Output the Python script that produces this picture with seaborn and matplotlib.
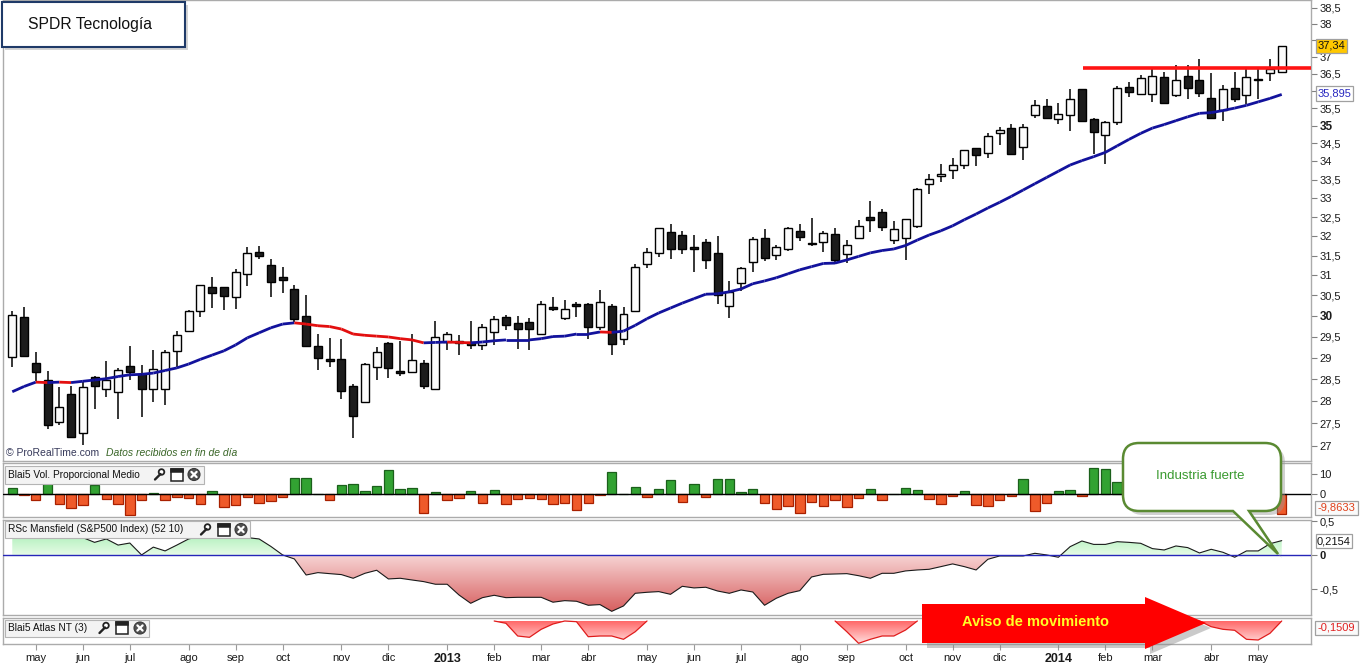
import numpy as np
import pandas as pd
import matplotlib
matplotlib.use("Agg")
import matplotlib.pyplot as plt
import seaborn as sns
from matplotlib.collections import LineCollection
from matplotlib.colors import LinearSegmentedColormap
from matplotlib.patches import Rectangle, Polygon, Circle, PathPatch
from matplotlib.path import Path
from matplotlib.ticker import NullLocator

sns.set_style("white")
plt.rcParams["font.family"] = ["Liberation Sans", "DejaVu Sans"]

# weekly candles, SPDR technology (XLK), Apr 2012 - May 2014
weeks = pd.date_range("2012-04-23", periods=109, freq="W-MON")

opens = [29.02, 29.97, 28.87, 28.47, 27.52, 28.15, 27.28, 28.54, 28.27, 28.20,
         28.80, 28.61, 28.27, 28.27, 29.15, 29.63, 30.12, 30.70, 30.70, 30.46,
         31.04, 31.59, 31.25, 30.95, 30.65, 29.99, 29.27, 28.97, 28.96, 28.34,
         27.98, 28.78, 29.34, 28.69, 28.67, 28.87, 28.27, 29.37, 29.39, 29.38,
         29.31, 29.62, 29.97, 29.82, 29.84, 29.57, 30.21, 29.94, 30.28, 30.28,
         29.74, 30.25, 29.44, 30.11, 31.28, 31.56, 32.10, 32.03, 31.72, 31.85,
         31.56, 30.23, 30.80, 31.34, 31.95, 31.51, 31.67, 32.13, 31.83, 31.85,
         32.05, 31.54, 31.95, 32.50, 32.63, 31.90, 31.95, 32.26, 33.37, 33.60,
         33.77, 33.90, 34.37, 34.23, 34.80, 34.93, 34.39, 35.30, 35.55, 35.18,
         35.30, 36.05, 35.18, 34.73, 35.10, 36.11, 35.90, 35.90, 36.40, 35.87,
         36.43, 36.31, 35.78, 35.44, 36.08, 35.87, 36.36, 36.52, 36.55]
highs = [30.12, 30.22, 29.13, 28.68, 28.32, 28.34, 28.44, 28.57, 28.92, 28.76,
         29.28, 28.82, 29.18, 29.18, 29.63, 30.15, 30.75, 30.96, 30.70, 31.15,
         31.72, 31.75, 31.41, 31.20, 30.75, 30.51, 29.55, 29.46, 29.44, 28.38,
         28.87, 29.26, 29.38, 29.40, 29.56, 28.94, 29.88, 29.62, 29.53, 29.88,
         29.79, 29.99, 30.01, 29.99, 29.94, 30.36, 30.46, 30.38, 30.33, 30.31,
         30.63, 30.30, 30.21, 31.28, 31.69, 32.20, 32.31, 32.13, 32.03, 31.92,
         32.00, 30.87, 31.20, 31.98, 32.18, 31.76, 32.25, 32.31, 32.47, 32.13,
         32.20, 31.90, 32.42, 32.93, 32.72, 32.40, 32.44, 33.27, 33.65, 33.92,
         34.09, 34.31, 34.37, 34.78, 34.97, 35.04, 35.04, 35.72, 35.75, 35.64,
         36.05, 36.05, 35.21, 35.13, 36.14, 36.26, 36.46, 36.64, 36.55, 36.75,
         36.75, 36.93, 36.52, 36.17, 36.55, 36.67, 36.64, 36.93, 37.34]
lows = [28.77, 29.03, 28.46, 27.38, 27.46, 27.19, 27.01, 27.81, 28.10, 27.60,
        28.47, 27.64, 27.98, 27.90, 28.79, 29.63, 29.98, 30.20, 30.15, 30.17,
        30.74, 31.42, 30.47, 30.55, 29.84, 29.27, 28.71, 28.78, 28.05, 27.18,
        27.96, 28.49, 28.53, 28.58, 28.65, 28.28, 28.25, 29.17, 29.07, 29.21,
        29.18, 29.31, 29.65, 29.21, 29.18, 29.53, 30.11, 29.89, 29.98, 29.45,
        29.65, 29.07, 29.29, 30.11, 31.18, 31.46, 31.41, 31.53, 31.09, 31.15,
        30.28, 29.94, 30.60, 31.08, 31.36, 31.39, 31.61, 31.87, 31.74, 31.60,
        31.28, 31.31, 31.92, 32.10, 32.13, 31.80, 31.39, 32.21, 33.10, 33.44,
        33.51, 33.78, 33.87, 34.09, 34.45, 34.20, 34.03, 35.22, 35.18, 35.04,
        34.84, 35.13, 34.20, 33.92, 35.01, 35.82, 35.87, 35.67, 35.61, 35.82,
        35.76, 35.82, 35.18, 35.13, 35.67, 35.61, 35.76, 36.28, 36.55]
closes = [30.01, 29.05, 28.67, 27.46, 27.86, 27.19, 28.31, 28.35, 28.47, 28.71,
          28.67, 28.27, 28.73, 29.13, 29.53, 30.12, 30.75, 30.55, 30.48, 31.08,
          31.56, 31.50, 30.83, 30.88, 29.92, 29.27, 28.99, 28.93, 28.23, 27.65,
          28.84, 29.13, 28.75, 28.65, 28.94, 28.33, 29.48, 29.57, 29.35, 29.29,
          29.72, 29.92, 29.77, 29.67, 29.67, 30.28, 30.17, 30.16, 30.24, 29.72,
          30.35, 29.33, 30.04, 31.20, 31.59, 32.20, 31.68, 31.67, 31.68, 31.39,
          30.51, 30.58, 31.18, 31.92, 31.44, 31.71, 32.20, 31.97, 31.79, 32.08,
          31.39, 31.76, 32.26, 32.42, 32.23, 32.18, 32.44, 33.24, 33.51, 33.65,
          33.90, 34.31, 34.17, 34.70, 34.88, 34.20, 34.96, 35.58, 35.21, 35.32,
          35.75, 35.13, 34.81, 35.10, 36.08, 35.96, 36.37, 36.43, 35.64, 36.31,
          36.08, 35.93, 35.21, 36.05, 35.75, 36.40, 36.31, 36.64, 37.34]
moving_avg = [28.21, 28.33, 28.43, 28.42, 28.43, 28.42, 28.45, 28.48, 28.51, 28.56,
              28.60, 28.61, 28.64, 28.70, 28.76, 28.85, 28.96, 29.06, 29.16, 29.30,
              29.47, 29.59, 29.71, 29.80, 29.83, 29.80, 29.76, 29.74, 29.68, 29.56,
              29.53, 29.51, 29.49, 29.45, 29.42, 29.35, 29.36, 29.37, 29.36, 29.35,
              29.37, 29.40, 29.42, 29.42, 29.42, 29.45, 29.50, 29.51, 29.56, 29.56,
              29.61, 29.60, 29.63, 29.77, 29.93, 30.07, 30.19, 30.31, 30.42, 30.53,
              30.54, 30.59, 30.66, 30.79, 30.86, 30.94, 31.04, 31.14, 31.22, 31.30,
              31.31, 31.39, 31.48, 31.57, 31.63, 31.67, 31.76, 31.90, 32.03, 32.14,
              32.27, 32.43, 32.58, 32.74, 32.89, 33.05, 33.22, 33.39, 33.56, 33.73,
              33.90, 34.02, 34.13, 34.25, 34.43, 34.61, 34.78, 34.93, 35.03, 35.14,
              35.25, 35.35, 35.37, 35.43, 35.50, 35.58, 35.68, 35.78, 35.895]
resistance = 36.68
resistance_from = 91.1

vol_prop = [3, -0.5, -3, 5.5, -5, -7, -5.5, 4.5, -2.5, -5,
            -10.5, -3, 0.5, -3, -1.5, -2, -5, 1.5, -6.5, -5.5,
            -1.5, -4.5, -3.5, -1.5, 8, 8, 0, -3, 4.5, 5,
            1.5, 4, 12, 2.5, 3, -9.5, 1, -3, -2, 1.5,
            -4.5, 2, -5, -2.5, -2, -2.5, -5, -4.5, -8, -4.5,
            -0.5, 11, 0, 3.5, -1.5, 2.5, 7, -4, 5, -1.5,
            7.5, 7.5, 1, 2.5, -4.5, -7.5, -6, -9.5, -4, -6,
            -3, -6.5, -2, 2.5, -3, 0, 3, 2, -2.5, -5,
            -1, 1.5, -5.5, -6, -3, -1, 7.5, -8.5, -4.5, 1.5,
            2, -1, 13, 12.5, 6, -3, 2, 4, -2, 3,
            -4, -3, -6, 2, -2, 3, -1, 1, -9.8633]
rs_mansfield = [0.30, 0.32, 0.30, 0.28, 0.30, 0.27, 0.26, 0.19, 0.24, 0.15,
                0.18, 0.005, 0.12, 0.064, 0.15, 0.24, 0.28, 0.30, 0.32, 0.30,
                0.26, 0.24, 0.13, 0.005, -0.054, -0.29, -0.255, -0.27, -0.284, -0.338,
                -0.265, -0.22, -0.348, -0.338, -0.363, -0.387, -0.426, -0.426, -0.583, -0.706,
                -0.623, -0.588, -0.623, -0.618, -0.618, -0.618, -0.69, -0.667, -0.676, -0.735,
                -0.725, -0.824, -0.745, -0.559, -0.544, -0.534, -0.574, -0.456, -0.48, -0.47,
                -0.525, -0.559, -0.51, -0.54, -0.735, -0.632, -0.559, -0.52, -0.319, -0.28,
                -0.275, -0.27, -0.30, -0.338, -0.265, -0.265, -0.23, -0.216, -0.206, -0.167,
                -0.127, -0.167, -0.216, -0.059, -0.01, -0.01, -0.01, 0.029, 0.005, -0.029,
                0.127, 0.21, 0.16, 0.16, 0.20, 0.19, 0.176, 0.098, 0.078, 0.137,
                0.113, 0.034, 0.088, 0.044, -0.029, 0.064, 0.064, 0.17, 0.2154]
atlas_nt = [0, 0, 0, 0, 0, 0, 0, 0, 0, 0,
            0, 0, 0, 0, 0, 0, 0, 0, 0, 0,
            0, 0, 0, 0, 0, 0, 0, 0, 0, 0,
            0, 0, 0, 0, 0, 0, 0, 0, 0, 0,
            0, 0, -0.023, -0.15, -0.163, -0.083, -0.03, 0, -0.007, -0.157,
            -0.15, -0.15, -0.183, -0.107, 0, 0, 0, 0, 0, 0,
            0, 0, 0, 0, 0, 0, 0, 0, 0, 0,
            0, -0.107, -0.223, -0.183, -0.15, -0.15, -0.09, 0, 0, 0,
            0, 0, 0, 0, 0, 0, 0, 0, 0, 0,
            0, 0, 0, 0, 0, 0, 0, 0, 0, 0,
            0, 0, -0.057, -0.083, -0.093, -0.183, -0.19, -0.123, 0]

month_names = {1: "ene", 2: "feb", 3: "mar", 4: "abr", 5: "may", 6: "jun",
               7: "jul", 8: "ago", 9: "sep", 10: "oct", 11: "nov", 12: "dic"}

o = np.array(opens); h = np.array(highs); l = np.array(lows); c = np.array(closes)
ma = np.array(moving_avg)
vol = np.array(vol_prop)
rs = np.array(rs_mansfield)
atl = np.array(atlas_nt)
idx = np.arange(len(c))

W, H = 1362, 665
fig = plt.figure(figsize=(W / 100, H / 100), dpi=100)


def px_axes(x0, y0, x1, y1):
    return fig.add_axes([x0 / W, 1 - y1 / H, (x1 - x0) / W, (y1 - y0) / H])


XL = (-0.79, 110.49)
main = px_axes(3, 0, 1311, 461)
volax = px_axes(3, 463, 1311, 517)
rsax = px_axes(3, 519.5, 1311, 615)
atax = px_axes(3, 618, 1311, 643.5)

for ax in (main, volax, rsax, atax):
    ax.set_facecolor("white")
    for s in ax.spines.values():
        s.set_color("#ababab")
        s.set_linewidth(1.0)
    ax.tick_params(axis="x", bottom=False, labelbottom=False)
    ax.tick_params(axis="y", left=False, labelleft=False, right=True, labelright=True,
                   direction="out", length=4, width=0.8, color="#808080",
                   labelsize=8, labelcolor="#1a1a1a", pad=2)

# ---- price panel
main.set_yscale("log")
up = c >= o
main.vlines(idx, l, h, color="black", lw=1.1, zorder=2)
main.bar(idx, np.abs(c - o), bottom=np.minimum(o, c), width=0.68,
         color=np.where(up, "#fbfbfb", "#1c1c1c"), edgecolor="black", lw=1.0, zorder=3)
pts = np.column_stack([idx, ma])
segs = np.stack([pts[:-1], pts[1:]], axis=1)
seg_cols = ["#e30f0f" if ma[i + 1] < ma[i] else "#12129c" for i in range(len(ma) - 1)]
main.add_collection(LineCollection(segs, colors=seg_cols, linewidths=2.0, zorder=4))
main.hlines(resistance, resistance_from, XL[1], color="#ff1414", lw=2.6, zorder=5)
main.set_xlim(XL)
main.set_ylim(26.67, 38.75)
pticks = np.arange(27, 38.51, 0.5)
main.set_yticks(pticks)
# 37,5 and 36 sit under the last-value boxes, so they are left blank
main.set_yticklabels(["" if t in (37.5, 36.0) else f"{t:g}".replace(".", ",") for t in pticks])
main.yaxis.set_minor_locator(NullLocator())
for t, lab in zip(pticks, main.get_yticklabels()):
    if t in (30, 35):
        lab.set_fontweight("bold")
        lab.set_fontsize(8.5)

# ---- volume proportional panel
volax.bar(idx, vol, width=0.8, color=np.where(vol >= 0, "#32a232", "#ef5a2a"),
          edgecolor=np.where(vol >= 0, "#1b601b", "#a82000"), lw=0.9, zorder=2)
volax.axhline(0, color="black", lw=1.0, zorder=3)
volax.set_xlim(XL)
volax.set_ylim(-11.35, 15.65)
volax.set_yticks([0, 10])
volax.set_yticklabels(["0", "10"])


def gradient_fill(ax, coll, y0, y1, c0, c1):
    cmap = LinearSegmentedColormap.from_list("g", [c0, c1])
    im = ax.imshow(np.linspace(0, 1, 256).reshape(-1, 1), cmap=cmap, aspect="auto",
                   extent=[XL[0], XL[1], y0, y1], origin="lower", zorder=1)
    im.set_clip_path(Path.make_compound_path(*coll.get_paths()), transform=ax.transData)


# ---- RSc Mansfield panel
pos = rsax.fill_between(idx, rs, 0, where=rs >= 0, interpolate=True, color="none")
neg = rsax.fill_between(idx, rs, 0, where=rs <= 0, interpolate=True, color="none")
gradient_fill(rsax, pos, 0, 0.36, "#e6fbe6", "#a6eeb3")
gradient_fill(rsax, neg, -0.85, 0, "#d65c5c", "#f7d4d4")
sns.lineplot(x=idx, y=rs, ax=rsax, color="#1a1a1a", lw=0.8, zorder=3)
rsax.axhline(0, color="#2626b8", lw=1.0, zorder=4)
rsax.set_xlim(XL)
rsax.set_ylim(-0.878, 0.526)
rsax.set_yticks([-0.5, 0, 0.5])
rsax.set_yticklabels(["-0,5", "0", "0,5"])
rsax.get_yticklabels()[1].set_fontweight("bold")
rsax.set_xlabel(""); rsax.set_ylabel("")

# ---- Atlas NT panel
afill = atax.fill_between(idx, atl, 0, color="none")
gradient_fill(atax, afill, -0.225, 0, "#ffdcdc", "#ff6262")
show = (atl < 0) | (np.roll(atl, 1) < 0) | (np.roll(atl, -1) < 0)
atax.plot(idx, np.where(show, atl, np.nan), color="#e01c1c", lw=0.9, zorder=3)
atax.set_xlim(XL)
atax.set_ylim(-0.225, 0.03)
atax.tick_params(axis="y", right=False, labelright=False)

mstart = [i for i in range(1, len(weeks)) if weeks[i].month != weeks[i - 1].month]
mlabels = [str(weeks[i].year) if weeks[i].month == 1 else month_names[weeks[i].month]
           for i in mstart]
atax.tick_params(axis="x", bottom=True, labelbottom=True, direction="out", length=4,
                 width=0.8, color="#9a9a9a", labelsize=8, labelcolor="#1a1a1a", pad=3)
atax.set_xticks(mstart)
atax.set_xticklabels(mlabels)
for i, lab in zip(mstart, atax.get_xticklabels()):
    if weeks[i].month == 1:
        lab.set_fontweight("bold")
        lab.set_fontsize(9)

# ---- overlay in pixel coordinates for notes and boxes
ov = fig.add_axes([0, 0, 1, 1], zorder=10)
ov.set_xlim(0, W)
ov.set_ylim(H, 0)
ov.axis("off")

# title box
ov.add_patch(Rectangle((5, 5), 183, 45, facecolor="#b8b8b8", edgecolor="none", alpha=0.6))
ov.add_patch(Rectangle((1.5, 1.5), 183, 45, facecolor="white", edgecolor="#1f3a68", lw=1.5))
ov.text(28, 24, "SPDR Tecnología", fontsize=11.3, va="center", ha="left", color="#111111")

ov.text(6, 453.5, "© ProRealTime.com", fontsize=7.5, va="center", color="#36395a")
ov.text(106, 453.5, "Datos recibidos en fin de día", fontsize=7.5, va="center",
        style="italic", color="#3a6628")


def panel_label(text, x0, x1, y0, y1, icon_x):
    yc = (y0 + y1) / 2
    ov.add_patch(Rectangle((x0, y0), x1 - x0, y1 - y0, facecolor="#f3f3f3",
                           edgecolor="#b4b4b4", lw=0.8))
    ov.text(x0 + 3, yc, text, fontsize=7.3, va="center", ha="left", color="#111111")
    wx, bx, cx = icon_x
    ov.plot([wx - 4, wx + 1.5], [yc + 5, yc - 0.5], color="#222222", lw=1.7,
            solid_capstyle="round")
    ov.add_patch(Circle((wx + 2.5, yc - 2.5), 2.8, facecolor="white", edgecolor="#222222", lw=1.3))
    ov.add_patch(Rectangle((bx - 6, yc - 6), 12, 12, facecolor="white", edgecolor="#222222", lw=1.1))
    ov.add_patch(Rectangle((bx - 6, yc - 6), 12, 3, facecolor="#222222", edgecolor="#222222", lw=1.1))
    ov.add_patch(Circle((cx, yc), 6, facecolor="#505050", edgecolor="#3a3a3a", lw=0.8))
    ov.plot([cx - 2.6, cx + 2.6], [yc - 2.6, yc + 2.6], color="white", lw=1.6)
    ov.plot([cx - 2.6, cx + 2.6], [yc + 2.6, yc - 2.6], color="white", lw=1.6)


panel_label("Blai5 Vol. Proporcional Medio", 5, 204, 465.5, 483.5, (159, 176.5, 194))
panel_label("RSc Mansfield (S&P500 Index) (52 10)", 5, 250, 521, 538, (205, 223.5, 241))
panel_label("Blai5 Atlas NT (3)", 5, 149, 619.5, 636.5, (103.5, 121.5, 140))


def value_box(text, x0, y0, w, hgt, fc, tc):
    ov.add_patch(Rectangle((x0, y0), w, hgt, facecolor=fc, edgecolor="#a0a0a0", lw=0.9))
    ov.text(x0 + w / 2, y0 + hgt / 2, text, ha="center", va="center", fontsize=8, color=tc)


value_box("37,34", 1316, 38.5, 31, 14, "#ffc800", "#111111")
value_box("35,895", 1316, 86, 37, 15, "white", "#2828c0")
value_box("-9,8633", 1315, 501, 43, 14, "#fafafa", "#e0401a")
value_box("0,2154", 1316, 534, 36, 14, "white", "#111111")
value_box("-0,1509", 1315, 620.5, 43, 14, "#fafafa", "#e02020")

# callout "Industria fuerte"
x0, x1, y0, y1, r = 1123, 1281, 443, 511, 16
verts = [(x0 + r, y0), (x1 - r, y0), (x1, y0), (x1, y0 + r), (x1, y1 - r), (x1, y1),
         (x1 - r, y1), (1249, y1), (1278, 554), (1233, y1), (x0 + r, y1), (x0, y1),
         (x0, y1 - r), (x0, y0 + r), (x0, y0), (x0 + r, y0), (x0 + r, y0)]
codes = [Path.MOVETO, Path.LINETO, Path.CURVE3, Path.CURVE3, Path.LINETO, Path.CURVE3,
         Path.CURVE3, Path.LINETO, Path.LINETO, Path.LINETO, Path.LINETO, Path.CURVE3,
         Path.CURVE3, Path.LINETO, Path.CURVE3, Path.CURVE3, Path.CLOSEPOLY]
bubble = Path(verts, codes)
shadow = Path([(vx + 4, vy + 4) for vx, vy in verts], codes)
ov.add_patch(PathPatch(shadow, facecolor="#9a9a9a", edgecolor="none", alpha=0.45))
ov.add_patch(PathPatch(bubble, facecolor="white", edgecolor="#5a8a32", lw=1.8))
ov.text(1200, 476, "Industria fuerte", fontsize=9.5, ha="center", va="center", color="#3a9a30")

# red arrow "Aviso de movimiento"
arrow_pts = [(922, 604), (1145, 604), (1145, 597), (1206, 623), (1145, 649), (1145, 643), (922, 643)]
ov.add_patch(Polygon([(px + 5, py + 5) for px, py in arrow_pts], closed=True,
                     facecolor="#8a8a8a", edgecolor="none", alpha=0.45))
ov.add_patch(Polygon(arrow_pts, closed=True, facecolor="#ff0000", edgecolor="none"))
ov.text(1036, 622.5, "Aviso de movimiento", fontsize=10.5, fontweight="bold",
        ha="center", va="center", color="#ffff26")

fig.savefig("out.png", dpi=100)
